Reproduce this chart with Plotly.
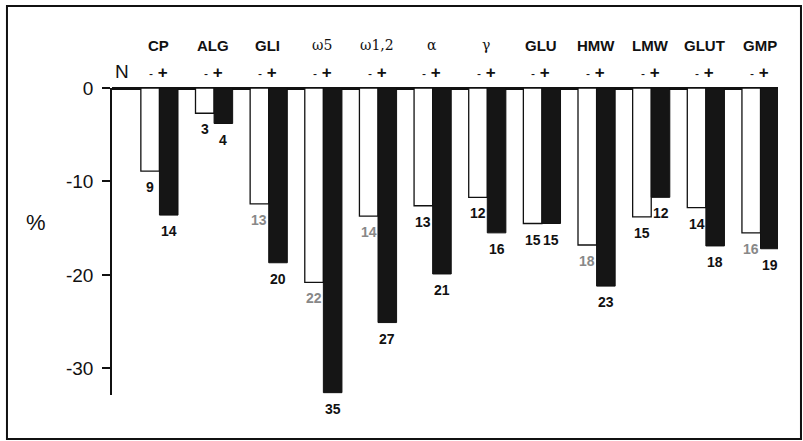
import plotly.graph_objects as go

# ---- data ----
categories = ["CP", "ALG", "GLI", "ω5", "ω1,2", "α", "γ", "GLU", "HMW", "LMW", "GLUT", "GMP"]
minus_values = [-8.9, -2.7, -12.4, -20.8, -13.7, -12.6, -11.7, -14.5, -16.8, -13.8, -12.8, -15.5]
plus_values = [-13.6, -3.8, -18.7, -32.6, -25.1, -19.9, -15.5, -14.5, -21.2, -11.7, -16.9, -17.2]
minus_labels = ["9", "3", "13", "22", "14", "13", "12", "15", "18", "15", "14", "16"]
plus_labels = ["14", "4", "20", "35", "27", "21", "16", "15", "23", "12", "18", "19"]
y_ticks = [0, -10, -20, -30]
greek = {"ω5", "ω1,2", "α", "γ"}
grey_minus = {"GLI", "ω5", "ω1,2", "HMW", "GMP"}

SANS = "Liberation Sans, Arial, Helvetica, sans-serif"
SERIF = "DejaVu Serif, Liberation Serif, serif"

fig = go.Figure()
fig.add_trace(go.Bar(
    x=categories, y=minus_values, name="-",
    marker=dict(color="white", line=dict(color="#111", width=1.3)),
))
fig.add_trace(go.Bar(
    x=categories, y=plus_values, name="+",
    marker=dict(color="#151515", line=dict(color="#111", width=1)),
))

ann = []
BAR_HALF = 9.3
for i, c in enumerate(categories):
    ann.append(dict(x=c, y=minus_values[i], xref="x", yref="y", text="<b>%s</b>" % minus_labels[i],
                    showarrow=False, xshift=-BAR_HALF, yshift=-6, yanchor="top",
                    font=dict(family=SANS, size=14, color="#888" if c in grey_minus else "#111")))
    ann.append(dict(x=c, y=plus_values[i], xref="x", yref="y", text="<b>%s</b>" % plus_labels[i],
                    showarrow=False, xshift=BAR_HALF, yshift=-6, yanchor="top",
                    font=dict(family=SANS, size=14, color="#111")))
    if c in greek:
        ann.append(dict(x=c, y=1, xref="x", yref="paper", text=c, showarrow=False,
                        yshift=43, yanchor="middle", xshift=-1,
                        font=dict(family=SERIF, size=14, color="#111")))
    else:
        ann.append(dict(x=c, y=1, xref="x", yref="paper", text="<b>%s</b>" % c, showarrow=False,
                        yshift=43, yanchor="middle", xshift=-1,
                        font=dict(family=SANS, size=15, color="#111")))
    ann.append(dict(x=c, y=1, xref="x", yref="paper",
                    text="<span style='font-size:12px'>-</span> <b>+</b>", showarrow=False,
                    yshift=16, yanchor="middle", xshift=-1,
                    font=dict(family=SANS, size=17, color="#111")))

ann.append(dict(x=0.015, y=1, xref="paper", yref="paper", text="N", showarrow=False,
                xanchor="center", yshift=17, yanchor="middle",
                font=dict(family=SANS, size=19, color="#111")))
ann.append(dict(x=-0.114, y=0.5635, xref="paper", yref="paper", text="%", showarrow=False,
                xanchor="center", yanchor="middle",
                font=dict(family=SANS, size=22, color="#111")))

fig.update_layout(
    width=803, height=441,
    margin=dict(l=112, r=25, t=88, b=46),
    paper_bgcolor="white", plot_bgcolor="white",
    barmode="group", bargap=0.32, bargroupgap=0,
    showlegend=False,
    annotations=ann,
    font=dict(family=SANS, color="#111"),
    shapes=[dict(type="rect", xref="paper", yref="paper",
                 x0=-0.1577, x1=1.0345, y0=-0.1433, y1=1.267,
                 line=dict(color="#111", width=2), fillcolor="rgba(0,0,0,0)", layer="above")],
)
fig.update_xaxes(
    type="category", categoryorder="array", categoryarray=categories,
    range=[-0.868, 11.32], showticklabels=False, showline=False, showgrid=False,
    zeroline=False, ticks="",
)
fig.update_yaxes(
    range=[-32.85, 0], tickvals=y_ticks, ticktext=[str(v) for v in y_ticks],
    showgrid=False, showline=True, linecolor="#111", linewidth=1.5,
    ticks="outside", ticklen=8, tickwidth=1.5, tickcolor="#111",
    zeroline=True, zerolinecolor="#111", zerolinewidth=2.5,
    tickfont=dict(family=SANS, size=19, color="#111"), ticklabelstandoff=5,
)

fig.write_html("out.html", config={"displayModeBar": False},
               post_script="document.body.style.margin='0';document.body.style.overflow='hidden';")
